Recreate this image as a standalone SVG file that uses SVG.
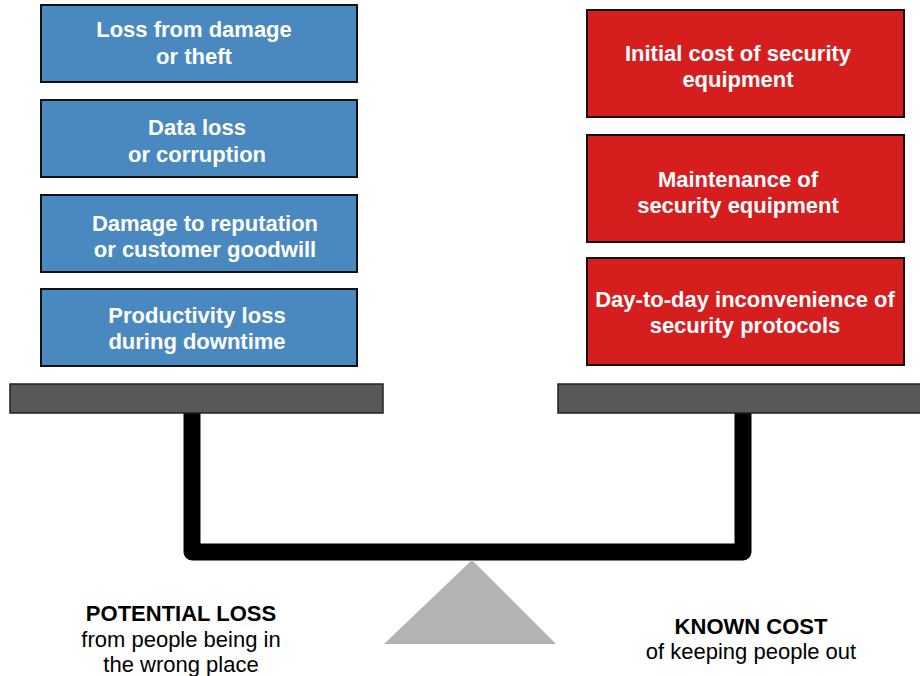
<svg xmlns="http://www.w3.org/2000/svg" width="920" height="676" viewBox="0 0 920 676">
<style>
.blue{fill:#4a89bf;stroke:#111;stroke-width:2}
.red{fill:#d71e1f;stroke:#111;stroke-width:2}
.plat{fill:#585858;stroke:#222;stroke-width:1.5}
.t{font-family:"Liberation Sans",Arial,sans-serif;font-weight:bold;font-size:22px;fill:#fff;text-anchor:middle}
.h{font-family:"Liberation Sans",Arial,sans-serif;font-weight:bold;font-size:22px;fill:#000;text-anchor:middle}
.s{font-family:"Liberation Sans",Arial,sans-serif;font-size:22px;fill:#000;text-anchor:middle}
</style>
<rect width="920" height="676" fill="#fff"/>
<g id="connectors">
<path d="M192,412 V552 H743 V412" fill="none" stroke="#000" stroke-width="17" stroke-linejoin="round"/>
</g>
<g id="fulcrum"><polygon points="472,560 384,644 556,644" fill="#b3b3b3"/></g>
<g id="platform-left"><rect class="plat" x="10" y="384" width="373" height="29"/></g>
<g id="platform-right"><rect class="plat" x="558" y="384" width="364" height="29"/></g>
<g id="loss1"><rect class="blue" x="41" y="5" width="316" height="77"/><text class="t" x="194" y="37">Loss from damage</text><text class="t" x="194" y="64">or theft</text></g>
<g id="loss2"><rect class="blue" x="41" y="100" width="316" height="77"/><text class="t" x="197" y="135">Data loss</text><text class="t" x="197" y="162">or corruption</text></g>
<g id="loss3"><rect class="blue" x="41" y="195" width="316" height="77"/><text class="t" x="205" y="231">Damage to reputation</text><text class="t" x="205" y="257">or customer goodwill</text></g>
<g id="loss4"><rect class="blue" x="41" y="289" width="316" height="77"/><text class="t" x="197" y="323">Productivity loss</text><text class="t" x="197" y="349">during downtime</text></g>
<g id="cost1"><rect class="red" x="587" y="10" width="317" height="107"/><text class="t" x="738" y="61">Initial cost of security</text><text class="t" x="738" y="87">equipment</text></g>
<g id="cost2"><rect class="red" x="587" y="135" width="317" height="107"/><text class="t" x="738" y="187">Maintenance of</text><text class="t" x="738" y="213">security equipment</text></g>
<g id="cost3"><rect class="red" x="587" y="258" width="317" height="107"/><text class="t" x="745" y="307">Day-to-day inconvenience of</text><text class="t" x="745" y="333">security protocols</text></g>
<g id="label-left"><text class="h" x="181" y="621">POTENTIAL LOSS</text><text class="s" x="181" y="647">from people being in</text><text class="s" x="181" y="672">the wrong place</text></g>
<g id="label-right"><text class="h" x="751" y="634">KNOWN COST</text><text class="s" x="751" y="659">of keeping people out</text></g>
</svg>
